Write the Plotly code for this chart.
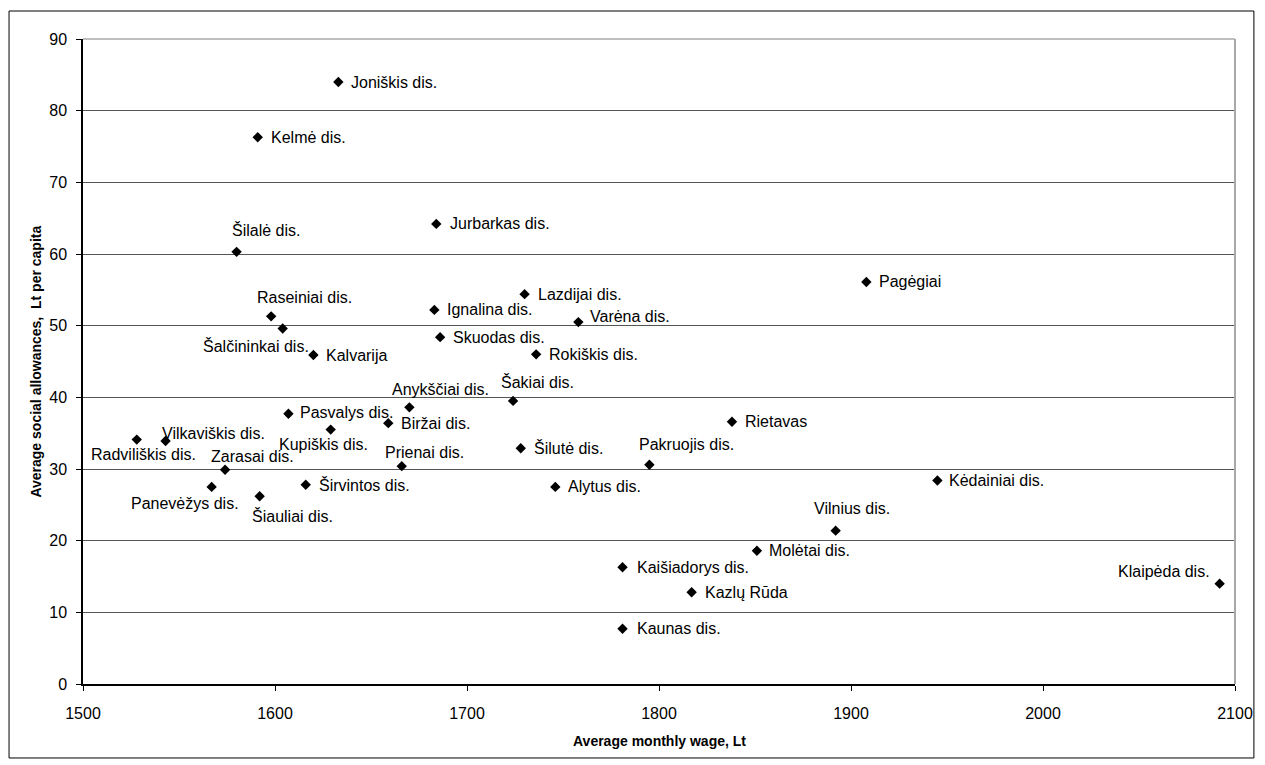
import plotly.graph_objects as go

districts = ["Joniškis dis.", "Kelmė dis.", "Šilalė dis.", "Jurbarkas dis.", "Raseiniai dis.",
             "Šalčininkai dis.", "Kalvarija", "Ignalina dis.", "Skuodas dis.", "Lazdijai dis.",
             "Varėna dis.", "Rokiškis dis.", "Pagėgiai", "Anykščiai dis.", "Biržai dis.",
             "Šakiai dis.", "Rietavas", "Pasvalys dis.", "Kupiškis dis.", "Radviliškis dis.",
             "Vilkaviškis dis.", "Zarasai dis.", "Panevėžys dis.", "Šiauliai dis.", "Širvintos dis.",
             "Prienai dis.", "Šilutė dis.", "Pakruojis dis.", "Alytus dis.", "Kėdainiai dis.",
             "Vilnius dis.", "Molėtai dis.", "Kaišiadorys dis.", "Kazlų Rūda", "Kaunas dis.",
             "Klaipėda dis."]
wage = [1633, 1591, 1580, 1684, 1598, 1604, 1620, 1683, 1686, 1730,
        1758, 1736, 1908, 1670, 1659, 1724, 1838, 1607, 1629, 1528,
        1543, 1574, 1567, 1592, 1616, 1666, 1728, 1795, 1746, 1945,
        1892, 1851, 1781, 1817, 1781, 2092]
allowance = [84.0, 76.3, 60.3, 64.2, 51.3, 49.6, 45.9, 52.2, 48.4, 54.4,
             50.5, 46.0, 56.1, 38.6, 36.4, 39.5, 36.6, 37.7, 35.5, 34.1,
             33.9, 29.9, 27.5, 26.2, 27.8, 30.4, 32.9, 30.6, 27.5, 28.4,
             21.4, 18.6, 16.3, 12.8, 7.7, 14.0]
x_ticks = [1500, 1600, 1700, 1800, 1900, 2000, 2100]
y_ticks = [0, 10, 20, 30, 40, 50, 60, 70, 80, 90]

# label placement styles (anchor, pixel shift x, pixel shift y)
label_anchor = ["left", "left", "left", "left", "left", "right", "left", "left", "left", "left",
                "left", "left", "left", "left", "left", "left", "left", "left", "left", "center",
                "left", "left", "right", "left", "left", "left", "left", "left", "left", "left",
                "left", "left", "left", "left", "left", "right"]
label_dx = [11, 11, -7, 12, -16, 28, 11, 11, 11, 11,
            10, 11, 11, -19, 11, -14, 11, 10, -54, 7,
            -6, -16, 29, -10, 11, -19, 11, -12, 11, 10,
            -24, 10, 12, 11, 12, -8]
label_dy = [0, 0, 22, 0, 19, -17, 0, 0, 0, 0,
            6, 0, 0, 18, 0, 19, 0, 1, -15, -15,
            8, 13, -17, -20, 0, 14, 0, 20, 0, 0,
            22, 0, 0, 0, 0, 12]

FONT = "Liberation Sans, Arial, sans-serif"

fig = go.Figure()
fig.add_trace(go.Scatter(
    x=wage, y=allowance, mode="markers",
    marker=dict(symbol="diamond", size=8, color="black"),
    text=districts, hoverinfo="text", cliponaxis=False, showlegend=False,
))

annotations = []
for name, xv, yv, anc, dx, dy in zip(districts, wage, allowance, label_anchor, label_dx, label_dy):
    annotations.append(dict(
        x=xv, y=yv, xref="x", yref="y", text=name, showarrow=False,
        xanchor=anc, yanchor="middle", xshift=dx, yshift=dy,
        font=dict(family=FONT, size=16, color="black"),
    ))

annotations.append(dict(
    x=0.5, y=-0.088, xref="paper", yref="paper", text="<b>Average monthly wage, Lt</b>",
    showarrow=False, xanchor="center", yanchor="middle",
    font=dict(family=FONT, size=14, color="black"),
))
annotations.append(dict(
    x=-0.0416, y=0.5, xref="paper", yref="paper", text="<b>Average social allowances,  Lt per capita</b>",
    showarrow=False, xanchor="center", yanchor="middle", textangle=-90,
    font=dict(family=FONT, size=14, color="black"),
))

shapes = [
    # outer frame
    dict(type="rect", xref="paper", yref="paper", x0=-0.0642, x1=1.0164, y0=-0.1147, y1=1.0434,
         line=dict(color="black", width=1), layer="below"),
    # plot area top / right border
    dict(type="line", xref="paper", yref="paper", x0=0, x1=1, y0=1, y1=1,
         line=dict(color="#a8a8a8", width=1.5)),
    dict(type="line", xref="paper", yref="paper", x0=1, x1=1, y0=0, y1=1,
         line=dict(color="#a8a8a8", width=2)),
]

fig.update_layout(
    width=1257, height=757,
    margin=dict(l=75, r=21, t=31, b=81),
    paper_bgcolor="white", plot_bgcolor="white",
    font=dict(family=FONT, size=16, color="black"),
    annotations=annotations, shapes=shapes,
    xaxis=dict(range=[1500, 2100], tickvals=x_ticks, ticks="outside", ticklen=5,
               tickcolor="black", showline=True, linecolor="black", linewidth=1.5,
               showgrid=False, zeroline=False, ticklabelstandoff=9,
               tickfont=dict(family=FONT, size=16, color="black")),
    yaxis=dict(range=[0, 90], tickvals=y_ticks, ticks="outside", ticklen=5,
               tickcolor="black", showline=True, linecolor="black", linewidth=1.5,
               showgrid=True, gridcolor="#555555", gridwidth=1, zeroline=False,
               ticklabelstandoff=6,
               tickfont=dict(family=FONT, size=16, color="black")),
)

fig.write_html("out.html")
